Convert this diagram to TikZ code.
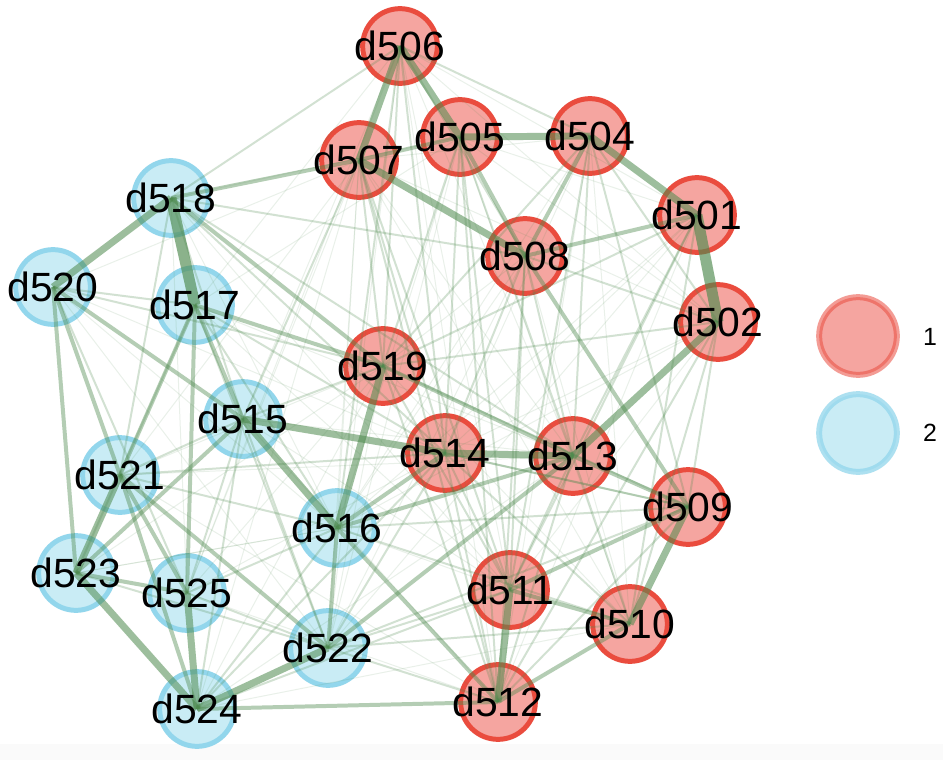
\documentclass[tikz,border=0pt]{standalone}
\usepackage{fontspec}
\setmainfont{Liberation Sans}
\definecolor{redfill}{RGB}{245,165,160}
\definecolor{redline}{RGB}{234,76,62}
\definecolor{bluefill}{RGB}{201,236,245}
\definecolor{blueline}{RGB}{146,214,236}
\definecolor{edgecol}{RGB}{78,138,78}
\tikzset{
  rnode/.style={circle,minimum size=75,inner sep=0,line width=5,draw=redline,fill=redfill},
  bnode/.style={circle,minimum size=75,inner sep=0,line width=5,draw=blueline,fill=bluefill},
  lbl/.style={inner sep=0,font=\fontsize{41}{42}\selectfont,text=black},
  legr/.style={circle,minimum size=78,inner sep=0,line width=6,draw=redline,draw opacity=0.55,fill=redfill},
  legb/.style={circle,minimum size=78,inner sep=0,line width=6,draw=blueline,draw opacity=0.75,fill=bluefill},
  leglbl/.style={inner sep=0,font=\fontsize{25}{26}\selectfont},
  e1/.style={draw=edgecol,line width=1,opacity=0.12},
  e2/.style={draw=edgecol,line width=2,opacity=0.25},
  e3/.style={draw=edgecol,line width=4,opacity=0.42},
  e4/.style={draw=edgecol,line width=7,opacity=0.55},
  e5/.style={draw=edgecol,line width=11,opacity=0.65}
}
\begin{document}
\begin{tikzpicture}[x=1bp,y=-1bp]
\useasboundingbox (0,0) rectangle (943,760);
\fill[white] (0,0) rectangle (943,760);
\fill[black!2] (0,744) rectangle (943,760);
% red nodes
\node[rnode] (n506) at (400,46) {};
\node[rnode] (n505) at (460,137) {};
\node[rnode] (n504) at (590,136) {};
\node[rnode] (n507) at (359,160) {};
\node[rnode] (n501) at (697,215) {};
\node[rnode] (n508) at (525,256) {};
\node[rnode] (n502) at (718,322) {};
\node[rnode] (n519) at (383,366) {};
\node[rnode] (n514) at (445,453) {};
\node[rnode] (n513) at (573,456) {};
\node[rnode] (n509) at (688,507) {};
\node[rnode] (n511) at (510,590) {};
\node[rnode] (n510) at (630,624) {};
\node[rnode] (n512) at (498,702) {};
% blue nodes
\node[bnode] (n518) at (171,198) {};
\node[bnode] (n520) at (53,287) {};
\node[bnode] (n517) at (195,305) {};
\node[bnode] (n515) at (243,419) {};
\node[bnode] (n521) at (120,475) {};
\node[bnode] (n516) at (337,528) {};
\node[bnode] (n523) at (76,573) {};
\node[bnode] (n525) at (187,593) {};
\node[bnode] (n522) at (328,648) {};
\node[bnode] (n524) at (197,709) {};
% edges
\foreach \a/\b in {501/502,518/517}
  \draw[e5] (n\a.center) -- (n\b.center);
\foreach \a/\b in {506/507,506/505,505/504,504/501,507/508,518/520,515/514,514/513,509/510,511/512,522/524,524/525,523/524,523/521,519/516,515/516,502/513}
  \draw[e4] (n\a.center) -- (n\b.center);
\foreach \a/\b in {507/505,505/508,508/501,518/519,517/519,517/515,519/513,513/509,510/511,510/512,516/522,521/522,523/515,520/521,520/523,520/515,517/521,517/525,523/525,508/509,516/512,516/514,516/513,509/511,518/507,512/524,521/525,521/524,522/513,504/508}
  \draw[e3] (n\a.center) -- (n\b.center);
\foreach \a/\b in {504/502,506/508,506/504,507/519,507/514,507/511,505/511,505/512,508/502,508/513,508/514,508/511,502/509,502/519,501/513,504/513,504/509,513/510,513/511,514/511,514/512,514/510,519/511,519/512,522/510,522/511,522/512,522/514,516/510,515/519,515/522,515/524,515/525,518/515,518/521,518/506,518/514,518/513,518/508,517/514,517/516,517/522,517/523,520/517,520/519,520/525,521/516,525/522,525/516,524/516,524/511,524/514,523/522,506/519,506/516,507/515,505/519,505/514,501/511,501/519,502/512,509/512,509/514,512/513,504/519,506/514,521/515,505/513,507/512,508/512,501/510,502/510,504/511,514/509,519/509,516/509,521/514,522/509}
  \draw[e2] (n\a.center) -- (n\b.center);
\foreach \a/\b in {506/502,506/501,506/513,506/511,506/512,506/517,506/515,506/522,506/525,507/502,507/513,507/510,507/516,507/522,507/524,507/525,507/520,507/521,505/501,505/502,505/516,505/522,505/510,505/518,505/517,504/514,504/510,504/512,504/516,504/507,501/514,501/516,501/512,501/522,502/514,502/511,502/516,508/510,508/516,508/519,508/522,519/510,519/522,519/524,519/525,519/521,519/523,515/513,515/511,515/512,516/523,517/513,517/511,518/516,518/525,518/511,520/514,520/516,520/522,521/513,521/512,523/516,525/514,525/512,524/513,524/510,511/516}
  \draw[e1] (n\a.center) -- (n\b.center);
% labels
\foreach \n in {506,505,504,507,501,508,502,519,514,513,509,511,510,512,518,520,517,515,521,516,523,525,522,524}
  \node[lbl] (l\n) at (n\n.center) {d\n};
% legend
\node[legr] (g1) at (858,336) {};
\node[leglbl] (gl1) at (930,337) {1};
\node[legb] (g2) at (858,433) {};
\node[leglbl] (gl2) at (930,433) {2};
\end{tikzpicture}
\end{document}
